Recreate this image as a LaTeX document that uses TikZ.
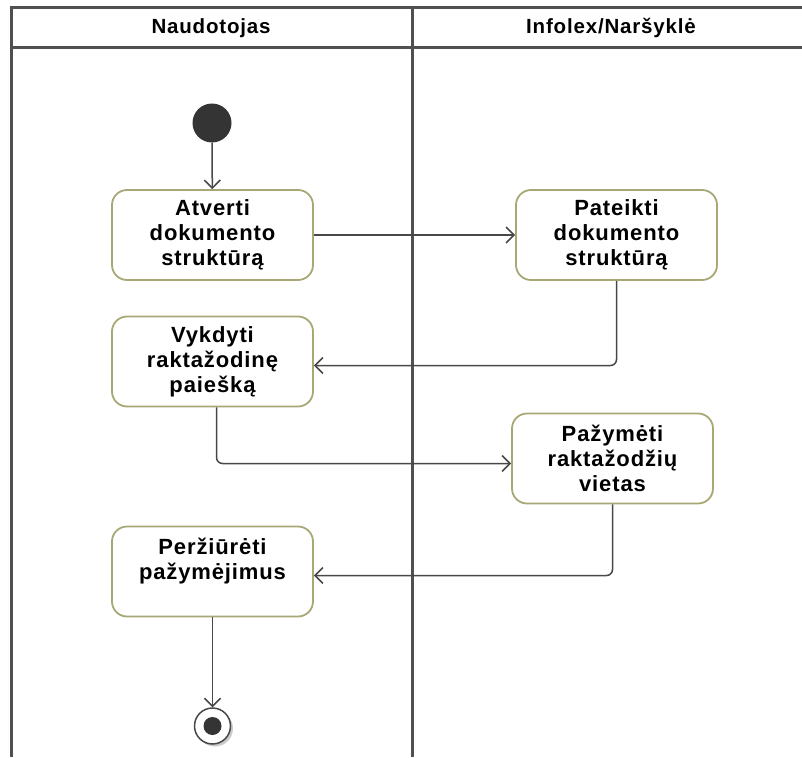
\documentclass[tikz,border=0pt]{standalone}
\usepackage{fontspec}
\setmainfont{Liberation Sans}[LetterSpace=4]
\usetikzlibrary{arrows.meta,shadows}
\definecolor{lanegray}{RGB}{80,80,80}
\definecolor{boxolive}{RGB}{168,168,118}
\definecolor{flowgray}{RGB}{72,72,72}
\definecolor{dotgray}{RGB}{52,52,52}

\begin{document}
\begin{tikzpicture}[x=1pt,y=-1pt,
  lane/.style={line width=3pt,draw=lanegray},
  lanetitle/.style={font=\fontsize{20.5}{25}\selectfont\bfseries},
  action/.style={draw=boxolive,line width=1.8pt,fill=white,rounded corners=15pt,
    minimum width=201pt,minimum height=90pt,inner sep=0pt,align=center,
    font=\fontsize{22}{25}\selectfont\bfseries},
  flow/.style={draw=flowgray,line width=1.5pt,rounded corners=6pt,
    -{Straight Barb[length=8pt,width=16pt,line width=1.5pt]}}]
\useasboundingbox (0,0) rectangle (802,757);

% lanes
\draw[lane] (802,8) -- (11,8) -- (11,757);
\draw[lane] (11,48) -- (802,48);
\draw[lane] (412,8) -- (412,757);
\node[lanetitle] (user) at (211,28) {Naudotojas};
\node[lanetitle] (browser) at (611,28) {Infolex/Naršyklė};

\node[circle,fill=dotgray,minimum size=39pt,inner sep=0pt] (start) at (212,123) {};

\node[action] (open) at (212.5,235) {Atverti\\dokumento\\struktūrą};
\node[action] (show) at (616.5,235) {Pateikti\\dokumento\\struktūrą};
\node[action] (search) at (212.5,361.5) {Vykdyti\\raktažodinę\\paiešką};
\node[action] (mark) at (612.5,458.5) {Pažymėti\\raktažodžių\\vietas};
\node[action] (review) at (212.5,571.5) {Peržiūrėti\\pažymėjimus\\~};

\node[circle,draw=flowgray,fill=white,line width=1.5pt,minimum size=36pt,inner sep=0pt,
  drop shadow={shadow xshift=2.5pt,shadow yshift=-2.5pt,fill=black!40}] (end) at (212.5,726) {};
\node[circle,fill=dotgray,minimum size=18pt,inner sep=0pt] (enddot) at (end) {};

\draw[flow] (start) -- (open);
\draw[flow] (open) -- (show);
\draw[flow] (show.south) |- ([yshift=-4pt]search.east);
\draw[flow] ([xshift=4pt]search.south) |- ([yshift=-5pt]mark.west);
\draw[flow] (mark.south) |- ([yshift=-4pt]review.east);
\draw[flow] (review) -- (end);
\end{tikzpicture}
\end{document}
